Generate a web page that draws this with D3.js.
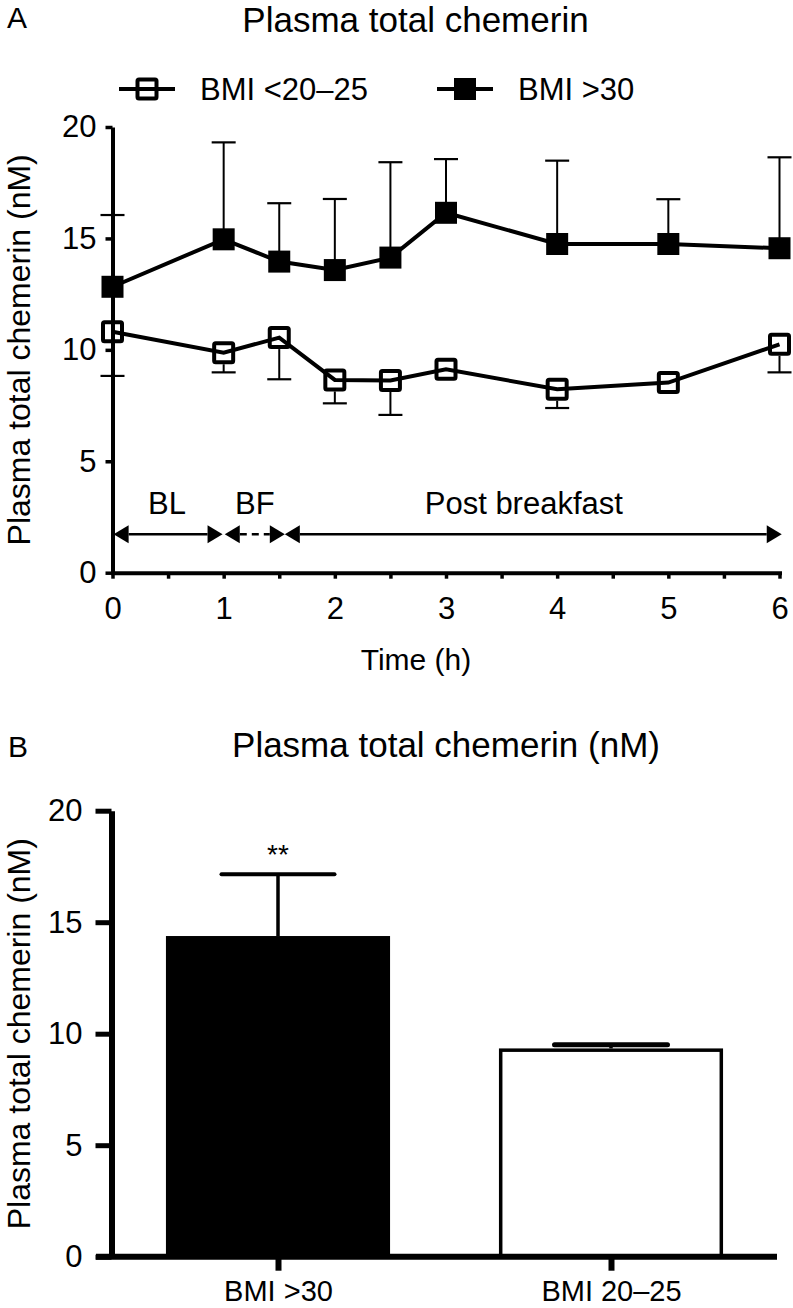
<!DOCTYPE html>
<html><head><meta charset="utf-8">
<script src="https://cdn.jsdelivr.net/npm/d3@7"></script>
<style>
body{margin:0;background:#fff}
svg{display:block}
text{font-family:"Liberation Sans",Arial,Helvetica,sans-serif;fill:#000}
</style>
</head><body>
<svg id="chart" width="793" height="1308"></svg>
<script>
// ---------- DATA (panel A) ----------
const timeHours = [0, 1, 1.5, 2, 2.5, 3, 4, 5, 6];
const obeseMean = [12.83, 14.96, 13.96, 13.58, 14.14, 16.15, 14.75, 14.75, 14.56];
const obeseErr  = [3.22, 4.35, 2.62, 3.19, 4.28, 2.41, 3.74, 2.01, 4.08];
const leanMean  = [10.81, 9.87, 10.55, 8.65, 8.63, 9.13, 8.23, 8.53, 10.25];
const leanErr   = [1.98, 0.88, 1.87, 1.05, 1.55, 0.30, 0.84, 0.45, 1.26];
const seriesNames = ["BMI <20\u201325", "BMI >30"];
const yTicksA = [0, 5, 10, 15, 20];
const xTicksA = [0, 0.5, 1, 1.5, 2, 2.5, 3, 3.5, 4, 4.5, 5, 5.5, 6];
const phaseNames  = ["BL", "BF", "Post breakfast"];
const phaseStart  = [0.01, 1.01, 1.55];
const phaseEnd    = [0.99, 1.55, 6.02];
const phaseDashed = [false, true, false];
const phaseLabelAt = [0.49, 1.28, 3.7];
const phaseArrowLevel = 1.72;
const phaseLabelLevel = 2.62;

// ---------- DATA (panel B) ----------
const barCategories = ["BMI >30", "BMI 20\u201325"];
const barMeans = [14.38, 9.34];
const barErr   = [2.77, 0.16];
const barFill  = ["#000", "#fff"];
const barSig   = ["**", ""];
const yTicksB  = [0, 5, 10, 15, 20];

const svg = d3.select("#chart");

// ================= PANEL A =================
const xA = d3.scaleLinear().domain([0, 6]).range([112.5, 779.5]);
const yA = d3.scaleLinear().domain([0, 20]).range([572.7, 127]);
const gA = svg.append("g");

svg.append("text").attr("x", 7).attr("y", 28).attr("font-size", 30).text("A");
svg.append("text").attr("x", 415.5).attr("y", 32).attr("text-anchor", "middle")
  .attr("font-size", 35).text("Plasma total chemerin");

// legend
const legendX = [119, 437];
seriesNames.forEach((name, i) => {
  const lg = gA.append("g").attr("transform", `translate(${legendX[i]},89)`);
  lg.append("line").attr("x1", 0).attr("x2", 56).attr("y1", 0).attr("y2", 0)
    .attr("stroke", "#000").attr("stroke-width", 4);
  if (i === 0) {
    lg.append("rect").attr("x", 28 - 9.5).attr("y", -9.5).attr("width", 19).attr("height", 19)
      .attr("fill", "none").attr("stroke", "#000").attr("stroke-width", 4).attr("rx", 1.5);
  } else {
    lg.append("rect").attr("x", 28 - 11).attr("y", -11).attr("width", 22).attr("height", 22)
      .attr("fill", "#000");
  }
  lg.append("text").attr("x", 81).attr("y", 11).attr("font-size", 31).text(name);
});

// axes
const yAxisA = gA.append("g").attr("transform", `translate(${xA(0)},0)`)
  .call(d3.axisLeft(yA).tickValues(yTicksA).tickSize(7).tickPadding(9).tickSizeOuter(0));
yAxisA.select(".domain").attr("stroke-width", 4);
yAxisA.selectAll(".tick line").attr("stroke-width", 3.5);
yAxisA.selectAll("text").attr("font-size", 31).attr("font-family", null);

const xAxisA = gA.append("g").attr("transform", `translate(0,${yA(0)})`)
  .call(d3.axisBottom(xA).tickValues(xTicksA).tickSize(6).tickPadding(18).tickSizeOuter(0)
    .tickFormat(d => Number.isInteger(d) ? d : ""));
xAxisA.select(".domain").attr("stroke-width", 4).attr("stroke-linecap", "square");
xAxisA.selectAll(".tick line").attr("stroke-width", 3.5);
xAxisA.selectAll("text").attr("font-size", 31).attr("font-family", null);

gA.append("text").attr("x", 416).attr("y", 670).attr("text-anchor", "middle")
  .attr("font-size", 30).text("Time (h)");
gA.append("text").attr("transform", `translate(30,${(yA(0) + yA(20)) / 2}) rotate(-90)`)
  .attr("text-anchor", "middle").attr("font-size", 32).text("Plasma total chemerin (nM)");

// phase arrows
const headL = 15, headH = 9;
phaseNames.forEach((name, i) => {
  const y = yA(phaseArrowLevel);
  const x0 = xA(phaseStart[i]), x1 = xA(phaseEnd[i]);
  gA.append("line").attr("x1", x0 + headL).attr("x2", x1 - headL).attr("y1", y).attr("y2", y)
    .attr("stroke", "#000").attr("stroke-width", 2.5)
    .attr("stroke-dasharray", phaseDashed[i] ? "7,5" : null);
  gA.append("path").attr("d", `M${x0},${y}L${x0 + headL},${y - headH}L${x0 + headL},${y + headH}Z`).attr("fill", "#000");
  gA.append("path").attr("d", `M${x1},${y}L${x1 - headL},${y - headH}L${x1 - headL},${y + headH}Z`).attr("fill", "#000");
  gA.append("text").attr("x", xA(phaseLabelAt[i])).attr("y", yA(phaseLabelLevel))
    .attr("text-anchor", "middle").attr("font-size", 31).text(name);
});

// error bars
const capW = 12;
const leanHalf = 11.5;
timeHours.forEach((t, i) => {
  const x = xA(t);
  const yTop = yA(obeseMean[i] + obeseErr[i]);
  gA.append("line").attr("x1", x).attr("x2", x).attr("y1", yA(obeseMean[i])).attr("y2", yTop)
    .attr("stroke", "#000").attr("stroke-width", 2);
  gA.append("line").attr("x1", x - capW).attr("x2", x + capW).attr("y1", yTop).attr("y2", yTop)
    .attr("stroke", "#000").attr("stroke-width", 2.2);
  const yBot = yA(leanMean[i] - leanErr[i]);
  const yStart = yA(leanMean[i]) + leanHalf;
  if (yBot > yStart) {
    gA.append("line").attr("x1", x).attr("x2", x).attr("y1", yStart).attr("y2", yBot)
      .attr("stroke", "#000").attr("stroke-width", 2);
    gA.append("line").attr("x1", x - capW).attr("x2", x + capW).attr("y1", yBot).attr("y2", yBot)
      .attr("stroke", "#000").attr("stroke-width", 2.2);
  }
});

// lines
const lineGen = vals => d3.line().x((d, i) => xA(timeHours[i])).y(d => yA(d))(vals);
gA.append("path").attr("d", lineGen(obeseMean)).attr("fill", "none").attr("stroke", "#000").attr("stroke-width", 4);
gA.append("path").attr("d", lineGen(leanMean)).attr("fill", "none").attr("stroke", "#000").attr("stroke-width", 4);

// markers
gA.selectAll(".mObese").data(obeseMean).join("rect")
  .attr("x", (d, i) => xA(timeHours[i]) - 11).attr("y", d => yA(d) - 11)
  .attr("width", 22).attr("height", 22).attr("fill", "#000");
gA.selectAll(".mLean").data(leanMean).join("rect")
  .attr("x", (d, i) => xA(timeHours[i]) - 9.5).attr("y", d => yA(d) - 9.5)
  .attr("width", 19).attr("height", 19).attr("rx", 1.5)
  .attr("fill", "none").attr("stroke", "#000").attr("stroke-width", 4);

// ================= PANEL B =================
const yB = d3.scaleLinear().domain([0, 20]).range([1256.7, 810.7]);
const xB = d3.scaleBand().domain(barCategories).range([111.5, 777.5])
  .paddingInner(0.327).paddingOuter(0.1635);
const gB = svg.append("g");

svg.append("text").attr("x", 8).attr("y", 757).attr("font-size", 30).text("B");
svg.append("text").attr("x", 446).attr("y", 757).attr("text-anchor", "middle")
  .attr("font-size", 35).text("Plasma total chemerin (nM)");

gB.append("text").attr("transform", `translate(30,${(yB(0) + yB(20)) / 2}) rotate(-90)`)
  .attr("text-anchor", "middle").attr("font-size", 32).text("Plasma total chemerin (nM)");

// bars
barCategories.forEach((c, i) => {
  const x = xB(c), w = xB.bandwidth();
  const white = barFill[i] === "#fff";
  gB.append("rect").attr("x", x + (white ? 1.75 : 0)).attr("y", yB(barMeans[i]) + (white ? 1.75 : 0))
    .attr("width", w - (white ? 3.5 : 0)).attr("height", yB(0) - yB(barMeans[i]) - (white ? 1.75 : 0))
    .attr("fill", barFill[i]).attr("stroke", white ? "#000" : "none").attr("stroke-width", 3.5);
  const cx = x + w / 2;
  const yTop = yB(barMeans[i] + barErr[i]);
  gB.append("line").attr("x1", cx).attr("x2", cx).attr("y1", yB(barMeans[i])).attr("y2", yTop)
    .attr("stroke", "#000").attr("stroke-width", 3.5);
  gB.append("line").attr("x1", cx - 56.5).attr("x2", cx + 56.5).attr("y1", yTop).attr("y2", yTop)
    .attr("stroke", "#000").attr("stroke-width", i === 0 ? 4 : 5).attr("stroke-linecap", "round");
  if (barSig[i]) {
    gB.append("text").attr("x", cx).attr("y", 864).attr("text-anchor", "middle")
      .attr("font-size", 28).text(barSig[i]);
  }
});

// axes B
const yAxisB = gB.append("g").attr("transform", `translate(${xB.range()[0]},0)`)
  .call(d3.axisLeft(yB).tickValues(yTicksB).tickSize(16).tickPadding(13).tickSizeOuter(0));
yAxisB.select(".domain").attr("stroke-width", 6);
yAxisB.selectAll(".tick line").attr("stroke-width", 5);
yAxisB.selectAll("text").attr("font-size", 31).attr("font-family", null);

const xAxisB = gB.append("g").attr("transform", `translate(0,${yB(0)})`)
  .call(d3.axisBottom(d3.scalePoint().domain(barCategories).range([278, 611]))
    .tickSize(14).tickPadding(10).tickSizeOuter(0));
xAxisB.select(".domain").remove();
xAxisB.selectAll(".tick line").attr("stroke-width", 6);
xAxisB.selectAll("text").attr("font-size", 29).attr("font-family", null);
gB.append("line").attr("x1", 96).attr("x2", 777).attr("y1", yB(0)).attr("y2", yB(0))
  .attr("stroke", "#000").attr("stroke-width", 6);
</script>
</body></html>
